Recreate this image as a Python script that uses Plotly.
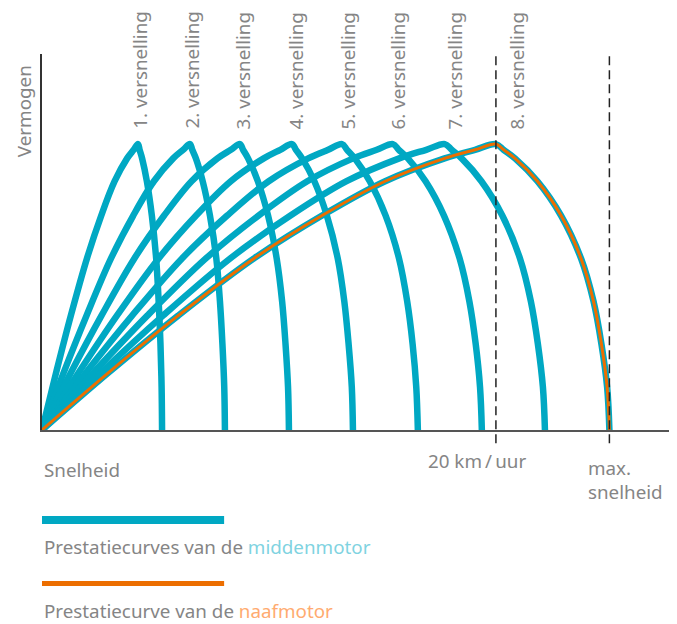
import plotly.graph_objects as go

power_levels = [0, 20, 40, 60, 75, 87, 95, 98, 100, 98, 95, 87, 75, 60, 45, 30, 15, 0]

# Snelheid (km/uur) van elke versnelling bij bovenstaande vermogens
gear1_speed = [0, 0.62, 1.27, 1.98, 2.61, 3.20, 3.75, 4.04, 4.23, 4.30, 4.41, 4.62, 4.84, 5.03, 5.14, 5.22, 5.27, 5.29]
gear2_speed = [0, 0.95, 1.96, 3.04, 4.02, 4.93, 5.78, 6.22, 6.52, 6.62, 6.78, 7.08, 7.40, 7.68, 7.84, 7.95, 8.03, 8.06]
gear3_speed = [0, 1.27, 2.62, 4.07, 5.38, 6.59, 7.73, 8.32, 8.72, 8.86, 9.08, 9.51, 9.96, 10.34, 10.58, 10.73, 10.84, 10.88]
gear4_speed = [0, 1.61, 3.30, 5.14, 6.79, 8.32, 9.77, 10.50, 11.01, 11.19, 11.46, 12.00, 12.55, 13.03, 13.32, 13.51, 13.65, 13.70]
gear5_speed = [0, 1.93, 3.97, 6.17, 8.16, 9.99, 11.73, 12.61, 13.22, 13.44, 13.78, 14.44, 15.14, 15.73, 16.09, 16.33, 16.49, 16.56]
gear6_speed = [0, 2.26, 4.64, 7.22, 9.54, 11.69, 13.71, 14.75, 15.46, 15.72, 16.12, 16.90, 17.71, 18.40, 18.83, 19.11, 19.30, 19.38]
gear7_speed = [0, 2.59, 5.33, 8.29, 10.95, 13.42, 15.74, 16.93, 17.75, 18.05, 18.49, 19.36, 20.28, 21.06, 21.54, 21.85, 22.07, 22.16]
gear8_speed = [0, 2.92, 6.00, 9.34, 12.34, 15.12, 17.74, 19.08, 20.00, 20.34, 20.84, 21.83, 22.87, 23.75, 24.30, 24.65, 24.90, 25.00]
gear_speeds = [gear1_speed, gear2_speed, gear3_speed, gear4_speed,
               gear5_speed, gear6_speed, gear7_speed, gear8_speed]

# Naafmotor: een enkele curve
hub_speed = [0, 2.92, 6.00, 9.34, 12.34, 15.12, 17.74, 19.08, 20.00, 20.34, 20.84, 21.83, 22.87, 23.75, 24.30, 24.65, 24.90, 25.00]
hub_power = [0, 20, 40, 60, 75, 87, 95, 98, 100, 98, 95, 87, 75, 60, 45, 30, 15, 0]

gear_labels = ['1. versnelling', '2. versnelling', '3. versnelling', '4. versnelling',
               '5. versnelling', '6. versnelling', '7. versnelling', '8. versnelling']
marker_speeds = [20, 25]
marker_labels = ['20 km\u2009/\u2009uur', 'max.<br>snelheid']

# Stijl
CYAN = '#00a8c3'
ORANGE = '#ec6e00'
GREY_TEXT = '#858585'
FONT = 'Noto Sans'
FSIZE = 18.8
X_MAX = 27.67
Y_MAX = 131.5
label_x = [4.32, 6.61, 8.85, 11.19, 13.48, 15.68, 18.19, 20.92]

fig = go.Figure()

# middenmotor: een curve per versnelling
for speeds in gear_speeds:
    fig.add_trace(go.Scatter(
        x=speeds, y=power_levels, mode='lines',
        line=dict(color=CYAN, width=6.5, shape='spline', smoothing=1),
        hoverinfo='skip', showlegend=False
    ))

# naafmotor
fig.add_trace(go.Scatter(
    x=hub_speed, y=hub_power, mode='lines',
    line=dict(color=ORANGE, width=3, shape='spline', smoothing=1),
    hoverinfo='skip', showlegend=False
))

# gestippelde lijnen bij 20 km/uur en max. snelheid
for s in marker_speeds:
    fig.add_shape(type='line', xref='x', yref='paper', x0=s, x1=s, y0=-0.035, y1=1,
                  line=dict(color='#222222', width=1.5, dash='9px,5px'), layer='above')

annotations = []
for lx, text in zip(label_x, gear_labels):
    annotations.append(dict(x=lx, y=0.795, xref='x', yref='paper', text=text, textangle=-90,
                            showarrow=False, xanchor='center', yanchor='bottom',
                            font=dict(family=FONT, size=FSIZE, color=GREY_TEXT)))

annotations += [
    dict(x=-0.0287, y=0.848, xref='paper', yref='paper', text='Vermogen', textangle=-90,
         showarrow=False, xanchor='center', yanchor='middle',
         font=dict(family=FONT, size=FSIZE, color=GREY_TEXT)),
    dict(x=0.0, y=-0.106, xref='paper', yref='paper', text='Snelheid',
         showarrow=False, xanchor='left', yanchor='middle',
         font=dict(family=FONT, size=FSIZE, color=GREY_TEXT)),
    dict(x=0.693, y=-0.0824, xref='paper', yref='paper', text=marker_labels[0],
         showarrow=False, xanchor='center', yanchor='middle',
         font=dict(family=FONT, size=FSIZE, color=GREY_TEXT)),
    dict(x=0.866, y=-0.062, xref='paper', yref='paper', text=marker_labels[1],
         showarrow=False, xanchor='left', yanchor='top', align='left',
         font=dict(family=FONT, size=FSIZE, color=GREY_TEXT)),
    dict(x=0.0, y=-0.311, xref='paper', yref='paper',
         text="Prestatiecurves van de <span style='color:#7fd3e1'>middenmotor</span>",
         showarrow=False, xanchor='left', yanchor='middle',
         font=dict(family=FONT, size=FSIZE, color=GREY_TEXT)),
    dict(x=0.0, y=-0.481, xref='paper', yref='paper',
         text="Prestatiecurve van de <span style='color:#ffab70'>naafmotor</span>",
         showarrow=False, xanchor='left', yanchor='middle',
         font=dict(family=FONT, size=FSIZE, color=GREY_TEXT)),
]

# legenda-balken
fig.add_shape(type='rect', xref='paper', yref='paper', x0=0, x1=0.29, y0=-0.25, y1=-0.2287,
              fillcolor=CYAN, line=dict(width=0))
fig.add_shape(type='rect', xref='paper', yref='paper', x0=0, x1=0.29, y0=-0.4149, y1=-0.4016,
              fillcolor=ORANGE, line=dict(width=0))

# de pagina zet de figuur 8px naar rechts/onder, dus 8px kleiner en marges aangepast
fig.update_layout(
    width=669, height=616, autosize=False,
    margin=dict(l=34, r=7, t=46, b=194),
    plot_bgcolor='white', paper_bgcolor='white',
    annotations=annotations,
    showlegend=False,
)
fig.update_xaxes(range=[0, X_MAX], showgrid=False, zeroline=False, showticklabels=False,
                 ticks='', showline=True, linecolor='#555555', linewidth=2)
fig.update_yaxes(range=[0, Y_MAX], showgrid=False, zeroline=False, showticklabels=False,
                 ticks='', showline=True, linecolor='#333333', linewidth=1.5)

fig.write_html('out.html', config={'displayModeBar': False})
